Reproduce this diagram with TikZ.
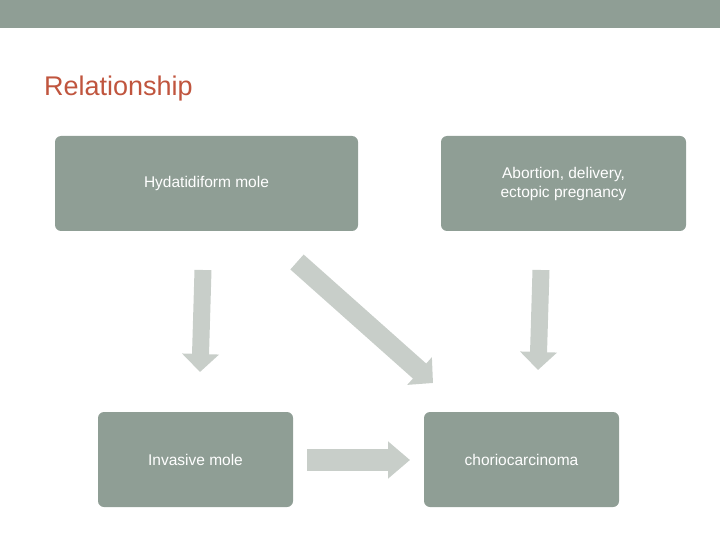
\documentclass[tikz,border=0pt]{standalone}
\usepackage{fontspec}
\setmainfont{Liberation Sans}
\usetikzlibrary{arrows.meta}
\definecolor{boxc}{HTML}{8F9E95}
\definecolor{arrc}{HTML}{C8CEC9}
\definecolor{titc}{HTML}{C0553E}
\begin{document}
\begin{tikzpicture}[x=1pt,y=-1pt,
  box/.style={fill=boxc,rounded corners=6pt,text=white,font=\fontsize{15.5}{19}\selectfont,align=center,inner sep=0pt},
  barr/.style={draw=arrc,line width=12pt,-{Triangle[width=36pt,length=18pt]}},
  harr/.style={draw=arrc,line width=22pt,-{Triangle[width=36pt,length=22pt]}}]
\useasboundingbox (0,0) rectangle (720,540);
\fill[boxc] (0,0) rectangle (720,28);
\node[anchor=base west,text=titc,font=\fontsize{27}{30}\selectfont,inner sep=0pt] (title) at (44,96) {Relationship};
\node[box,minimum width=303pt,minimum height=95pt] (hm) at (206.5,183.5) {Hydatidiform mole};
\node[box,minimum width=245pt,minimum height=95pt] (ab) at (563.5,183.5) {Abortion, delivery,\\ectopic pregnancy};
\node[box,minimum width=195pt,minimum height=95pt] (im) at (195.5,459.5) {Invasive mole};
\node[box,minimum width=195pt,minimum height=95pt] (ch) at (521.5,459.5) {choriocarcinoma};
\coordinate (a1) at (203,270); \coordinate (a1e) at (200,372);
\coordinate (a2) at (297,262); \coordinate (a2e) at (433,383);
\coordinate (a3) at (541,270); \coordinate (a3e) at (538,370);
\coordinate (a4) at (307,460); \coordinate (a4e) at (410,460);
\draw[barr,line width=17pt] (a1) -- (a1e);
\draw[barr,line width=20pt] (a2) -- (a2e);
\draw[barr,line width=17pt] (a3) -- (a3e);
\draw[harr] (a4) -- (a4e);
\end{tikzpicture}
\end{document}
